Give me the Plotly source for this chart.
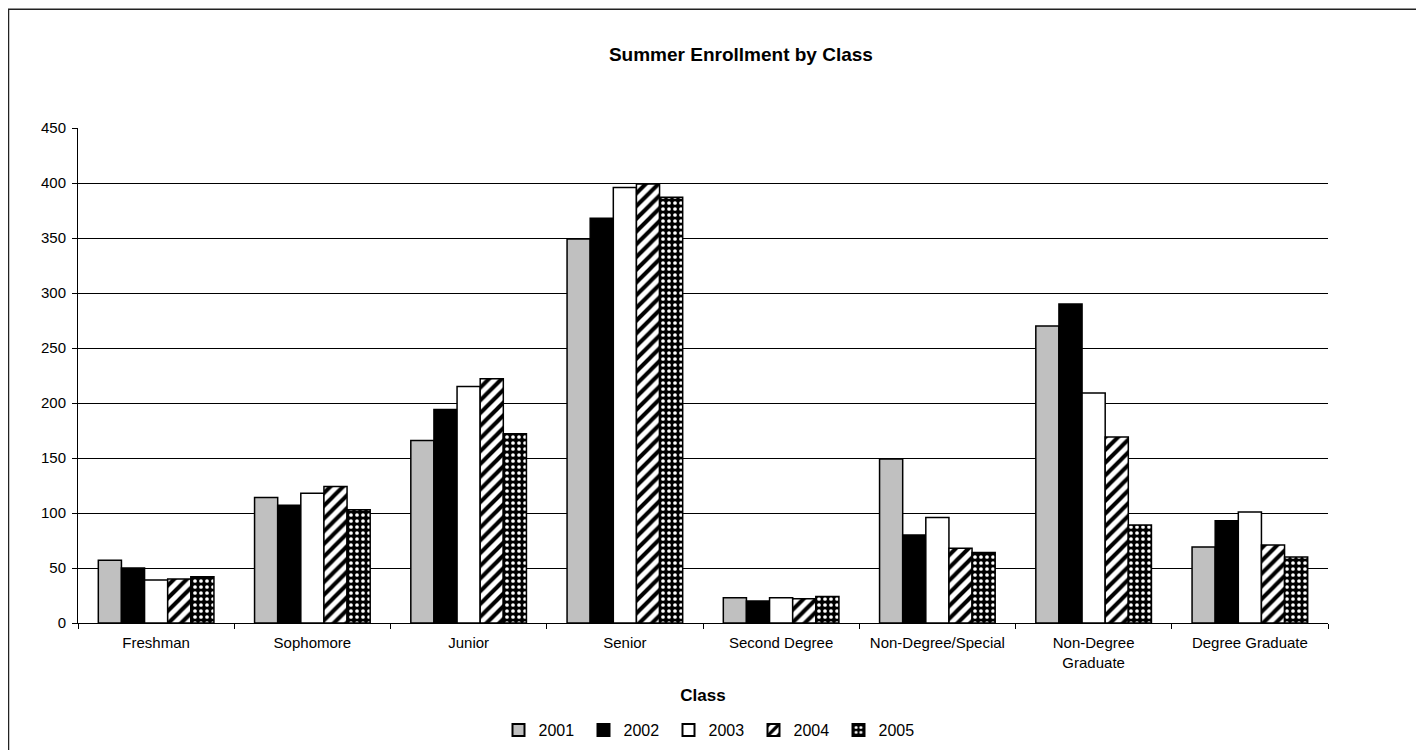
import plotly.graph_objects as go

# enrollment per class
classes = ["Freshman", "Sophomore", "Junior", "Senior", "Second Degree",
           "Non-Degree/Special", "Non-Degree<br>Graduate", "Degree Graduate"]
years = ["2001", "2002", "2003", "2004", "2005"]
y2001 = [57, 114, 166, 349, 23, 149, 270, 69]
y2002 = [50, 107, 194, 368, 20, 80, 290, 93]
y2003 = [39, 118, 215, 396, 23, 96, 209, 101]
y2004 = [40, 124, 222, 399, 22, 68, 169, 71]
y2005 = [42, 103, 172, 387, 24, 64, 89, 60]
y_ticks = [0, 50, 100, 150, 200, 250, 300, 350, 400, 450]

series = [y2001, y2002, y2003, y2004, y2005]

# fill / pattern per year
styles = [
    dict(color="#c0c0c0"),
    dict(color="#000000"),
    dict(color="#ffffff"),
    dict(color="#ffffff", pattern=dict(shape="/", fgcolor="#000000", bgcolor="#ffffff",
                                       size=9, solidity=0.45, fillmode="replace")),
    dict(color="#000000", pattern=dict(shape=".", fgcolor="#ffffff", bgcolor="#000000",
                                       size=6, solidity=0.3, fillmode="replace")),
]

fig = go.Figure()
for name, vals, st in zip(years, series, styles):
    fig.add_trace(go.Bar(
        x=classes, y=vals, name=name,
        marker=dict(line=dict(color="#000000", width=1.5), **st),
    ))

font_family = "Liberation Sans, Arial, sans-serif"

fig.update_layout(
    width=1424, height=750,
    margin=dict(l=70, r=104, t=120, b=134),
    paper_bgcolor="#ffffff", plot_bgcolor="#ffffff",
    font=dict(family=font_family, size=15, color="#000000"),
    barmode="group", bargap=0.26, bargroupgap=0,
    title=dict(text="<b>Summer Enrollment by Class</b>", xref="container", x=0.5147,
               xanchor="center", yref="container", y=0.9387, yanchor="middle",
               font=dict(size=19)),
    showlegend=True,
    legend=dict(orientation="h", x=0.5064, xanchor="center", y=-0.2137, yanchor="middle",
                font=dict(size=16), itemwidth=30, entrywidth=40, tracegroupgap=0,
                itemsizing="constant"),
    xaxis=dict(
        title=dict(text="<b>Class</b>", font=dict(size=17), standoff=19),
        showline=True, linecolor="#000000", linewidth=1,
        ticks="outside", tickson="boundaries", ticklen=5, tickcolor="#000000",
        tickfont=dict(size=15), ticklabelstandoff=6, showgrid=False,
    ),
    yaxis=dict(
        range=[0, 450], tickvals=y_ticks, showline=True, linecolor="#000000",
        linewidth=1, ticks="outside", ticklen=5, tickcolor="#000000",
        showgrid=True, gridcolor="#000000", gridwidth=1, zeroline=False,
        tickfont=dict(size=15), ticklabelstandoff=3,
    ),
    shapes=[dict(type="rect", xref="paper", yref="paper",
                 x0=-0.0556, x1=1.2, y0=-0.5, y1=1.2399,
                 line=dict(color="#222222", width=1.5), layer="below")],
)

fig.write_html("out.html")
